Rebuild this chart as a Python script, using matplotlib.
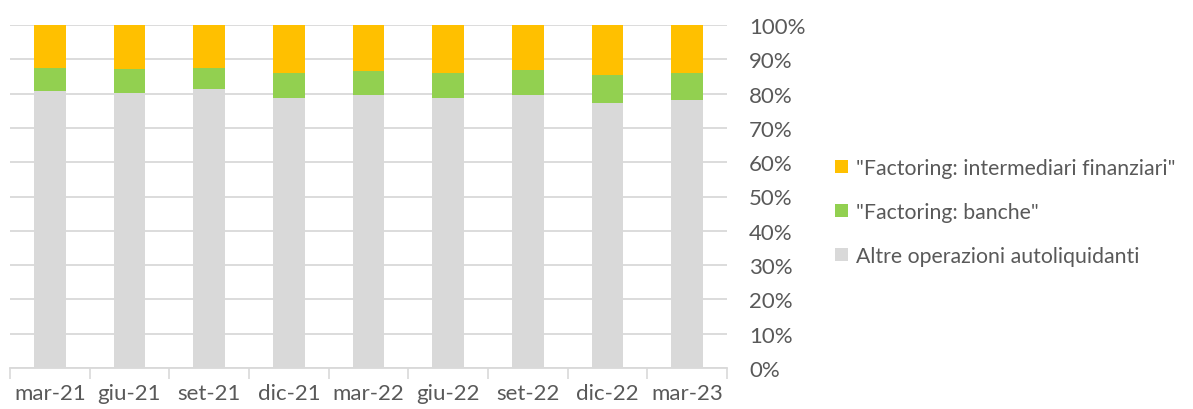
import matplotlib
matplotlib.use("Agg")
import matplotlib.pyplot as plt
from matplotlib.patches import Patch
import numpy as np

categories = ["mar-21", "giu-21", "set-21", "dic-21", "mar-22", "giu-22", "set-22", "dic-22", "mar-23"]
altre = [80.8, 80.2, 81.4, 78.7, 79.6, 78.8, 79.6, 77.2, 78.2]
banche = [6.7, 6.9, 6.0, 7.2, 6.9, 7.3, 7.3, 8.1, 7.9]
intermediari = [round(100 - a - b, 1) for a, b in zip(altre, banche)]
yticks = [0, 10, 20, 30, 40, 50, 60, 70, 80, 90, 100]
ytick_labels = [f"{v}%" for v in yticks]
series_names = ['"Factoring: intermediari finanziari"', '"Factoring: banche"', 'Altre operazioni autoliquidanti']

C_GRAY = "#D9D9D9"
C_GREEN = "#92D050"
C_ORANGE = "#FFC000"
TXT = "#595959"
FS = 16

plt.rcParams['font.family'] = ['Lato', 'DejaVu Sans']

fig = plt.figure(figsize=(11.93, 4.10), dpi=100)
ax = fig.add_axes([10/1193, 1 - 369/410, 717/1193, 343/410])

x = np.arange(len(categories))
w = 0.40
ax.bar(x, altre, w, color=C_GRAY, zorder=2)
ax.bar(x, banche, w, bottom=altre, color=C_GREEN, zorder=2)
bottom2 = [a + b for a, b in zip(altre, banche)]
ax.bar(x, intermediari, w, bottom=bottom2, color=C_ORANGE, zorder=2)

ax.set_xlim(-0.5, len(categories) - 0.5)
ax.set_ylim(0, 100)
ax.set_yticks(yticks)
ax.set_yticklabels(ytick_labels)
ax.yaxis.tick_right()
ax.tick_params(axis='y', length=0, pad=16, labelsize=FS, labelcolor=TXT)
for lab in ax.get_yticklabels():
    lab.set_horizontalalignment('left')
ax.yaxis.grid(True, color=C_GRAY, linewidth=1.3, zorder=0)
ax.set_axisbelow(True)

ax.set_xticks(x)
ax.set_xticklabels(categories)
ax.set_xticks(np.arange(-0.5, len(categories), 1.0), minor=True)
ax.tick_params(axis='x', which='major', length=0, pad=11, labelsize=FS, labelcolor=TXT)
ax.tick_params(axis='x', which='minor', length=8, width=1.2, color=C_GRAY, direction='out')

for s in ['top', 'right', 'left']:
    ax.spines[s].set_visible(False)
ax.spines['bottom'].set_color(C_GRAY)
ax.spines['bottom'].set_linewidth(1.3)

handles = [Patch(facecolor=C_ORANGE), Patch(facecolor=C_GREEN), Patch(facecolor=C_GRAY)]
fig.legend(handles, series_names, loc='center left', bbox_to_anchor=(816/1193, 1 - 213/410),
           frameon=False, fontsize=15.3, labelcolor=TXT, handlelength=0.6, handleheight=0.6,
           handletextpad=0.4, labelspacing=1.12)

fig.savefig("out.png", dpi=100)
